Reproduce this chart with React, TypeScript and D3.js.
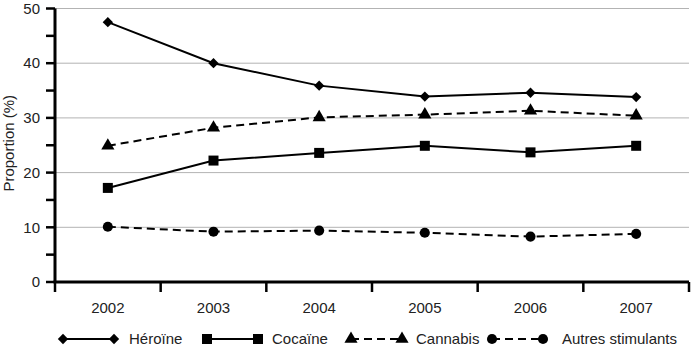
import { useMemo } from 'react';
import * as d3 from 'd3';

const years = ['2002', '2003', '2004', '2005', '2006', '2007'];
const heroine = [47.5, 40.0, 35.9, 33.9, 34.6, 33.8];
const cocaine = [17.2, 22.2, 23.6, 24.9, 23.7, 24.9];
const cannabis = [24.9, 28.2, 30.1, 30.6, 31.3, 30.4];
const autres = [10.1, 9.2, 9.4, 9.0, 8.3, 8.8];
const yTicks = [0, 10, 20, 30, 40, 50];

type Series = { name: string; values: number[]; symbol: d3.SymbolType; size: number; dashed: boolean };

const series: Series[] = [
  { name: 'Héroïne', values: heroine, symbol: d3.symbolDiamond2, size: 68, dashed: false },
  { name: 'Cocaïne', values: cocaine, symbol: d3.symbolSquare, size: 100, dashed: false },
  { name: 'Cannabis', values: cannabis, symbol: d3.symbolTriangle, size: 75, dashed: true },
  { name: 'Autres stimulants', values: autres, symbol: d3.symbolCircle, size: 80, dashed: true },
];

const WIDTH = 692;
const HEIGHT = 352;
const margin = { top: 8.5, right: 3, bottom: 70, left: 55 };
const FONT = '"Liberation Sans", Arial, sans-serif';

// legend layout: first marker centre and text start of each entry
const legendMarker = [63, 207, 351, 492];
const legendText = [129, 272, 416, 562];
const LEGEND_LINE = 51;

export default function App() {
  const boundsWidth = WIDTH - margin.left - margin.right;
  const boundsHeight = HEIGHT - margin.top - margin.bottom;

  const xScale = useMemo(() => d3.scaleBand().domain(years).range([0, boundsWidth]), [boundsWidth]);
  const yScale = useMemo(() => d3.scaleLinear().domain([0, 50]).range([boundsHeight, 0]), [boundsHeight]);

  const line = d3
    .line<number>()
    .x((_, i) => xScale(years[i])! + xScale.bandwidth() / 2)
    .y((d) => yScale(d));

  const minorTicks = d3.range(0, 51, 5);
  const boundaries = years.map((y) => xScale(y)!).concat([boundsWidth]);

  return (
    <svg width={WIDTH} height={HEIGHT} style={{ position: 'absolute', left: 0, top: 0 }} fontFamily={FONT}>
      <g transform={`translate(${margin.left},${margin.top})`}>
        {/* grid */}
        {yTicks.slice(1).map((t) => (
          <line key={t} x1={0} x2={boundsWidth} y1={yScale(t)} y2={yScale(t)} stroke="#b3b3b3" strokeWidth={1} />
        ))}

        {/* y axis */}
        {minorTicks.map((t) => (
          <line key={t} x1={-9} x2={0} y1={yScale(t)} y2={yScale(t)} stroke="#000" strokeWidth={2.5} />
        ))}
        {yTicks.map((t) => (
          <text key={t} x={-15} y={yScale(t)} dy="0.35em" textAnchor="end" fontSize={15} fill="#222">
            {t}
          </text>
        ))}
        <line x1={0} x2={0} y1={0} y2={boundsHeight} stroke="#000" strokeWidth={3} />

        {/* x axis */}
        <line x1={-1.5} x2={boundsWidth} y1={boundsHeight} y2={boundsHeight} stroke="#000" strokeWidth={3} />
        {boundaries.map((b, i) => (
          <line key={i} x1={b} x2={b} y1={boundsHeight} y2={boundsHeight + 10} stroke="#000" strokeWidth={2.5} />
        ))}
        {years.map((y) => (
          <text key={y} x={xScale(y)! + xScale.bandwidth() / 2} y={boundsHeight + 26} dy="0.35em" textAnchor="middle" fontSize={15} fill="#222">
            {y}
          </text>
        ))}

        {/* series */}
        {series.map((s) => (
          <g key={s.name}>
            <path d={line(s.values) ?? ''} fill="none" stroke="#000" strokeWidth={2} strokeDasharray={s.dashed ? '8,5' : undefined} />
            {s.values.map((v, i) => (
              <path
                key={i}
                transform={`translate(${xScale(years[i])! + xScale.bandwidth() / 2},${yScale(v)})`}
                d={d3.symbol().type(s.symbol).size(s.size)() ?? ''}
                fill="#000"
              />
            ))}
          </g>
        ))}
      </g>

      {/* y title */}
      <text transform={`translate(14,${margin.top + boundsHeight / 2 - 2}) rotate(-90)`} textAnchor="middle" fontSize={15} fill="#222">
        Proportion (%)
      </text>

      {/* legend */}
      <g transform="translate(0,339)">
        {series.map((s, i) => {
          const x0 = legendMarker[i];
          const x1 = x0 + LEGEND_LINE;
          return (
            <g key={s.name}>
              <line x1={x0} x2={x1} y1={0} y2={0} stroke="#000" strokeWidth={2} strokeDasharray={s.dashed ? '8,5' : undefined} />
              {[x0, x1].map((x) => (
                <path key={x} transform={`translate(${x},0)`} d={d3.symbol().type(s.symbol).size(s.size)() ?? ''} fill="#000" />
              ))}
              <text x={legendText[i]} y={0} dy="0.35em" fontSize={15} fill="#222">
                {s.name}
              </text>
            </g>
          );
        })}
      </g>
    </svg>
  );
}
